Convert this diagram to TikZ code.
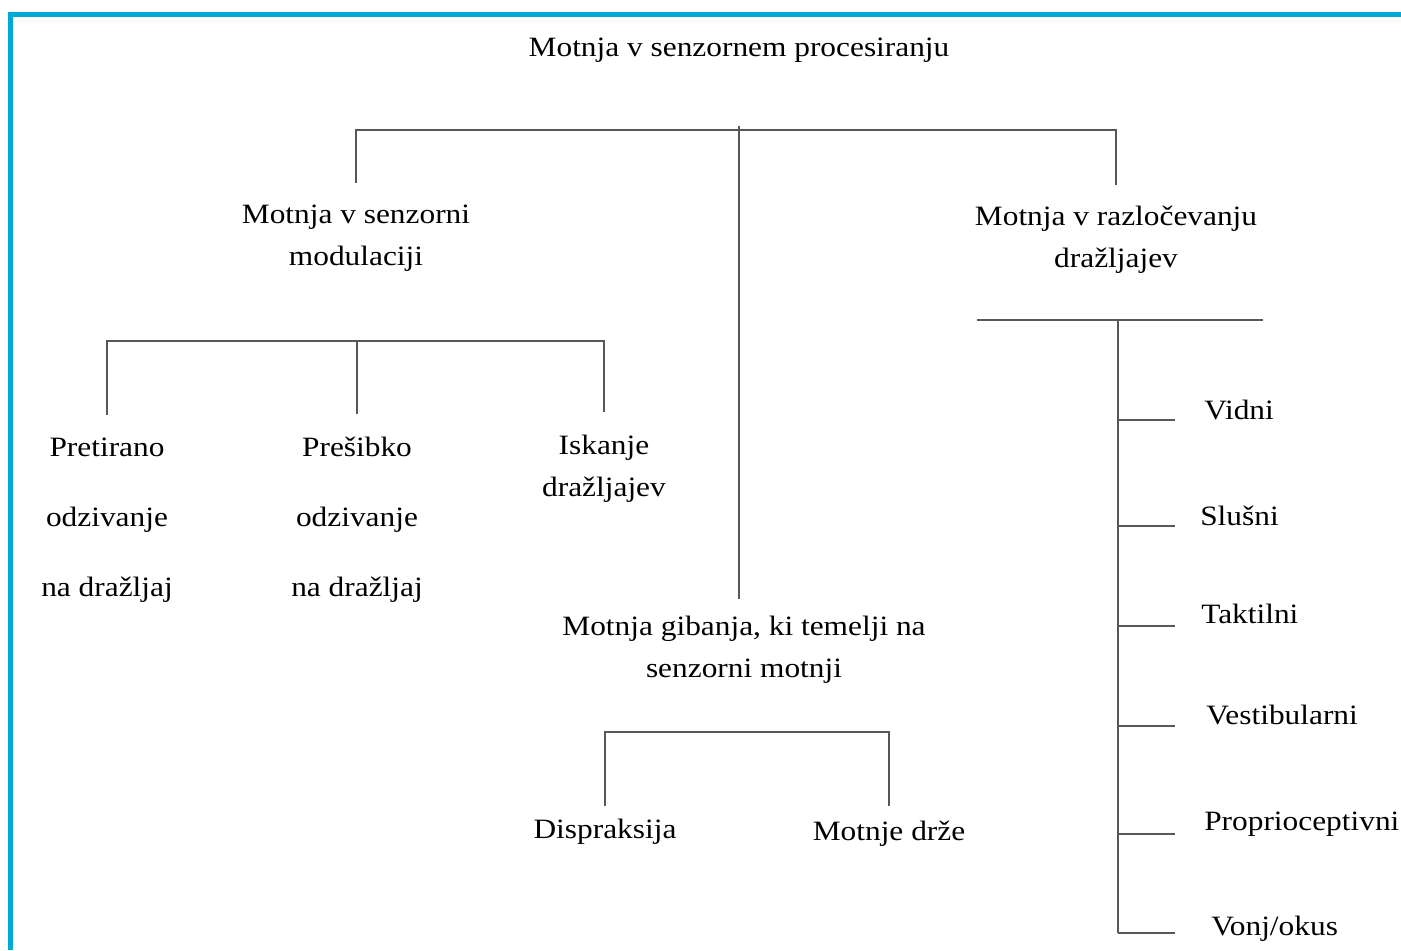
\documentclass[tikz,border=0pt]{standalone}
\usepackage{fontspec}
\setmainfont{Liberation Serif}[FakeStretch=1.12]
\definecolor{okvir}{HTML}{00A9D6}
\definecolor{crta}{HTML}{585858}

\begin{document}
\begin{tikzpicture}[x=0.75pt,y=-0.75pt]
\tikzstyle{every node}+=[inner sep=0pt, align=center, font=\fontsize{21}{31.5}\selectfont]
\tikzstyle{vez}=[draw=crta, line width=2.2pt]
\tikzstyle{tri}=[font=\fontsize{21}{52.5}\selectfont]
\tikzstyle{cut}=[anchor=west]
\useasboundingbox (0,0) rectangle (1401,950);
\fill [white] (0,0) rectangle (1401,950);
\draw [okvir, line width=4pt] (10.5,950) -- (10.5,14.5) -- (1401,14.5);
% naslov in prva raven
\node (glavna) at (739,50) {Motnja v senzornem procesiranju};
\node (modul) at (356,238) {Motnja v senzorni\\modulaciji};
\node (razloc) at (1116,240) {Motnja v razločevanju\\dražljajev};
\node (gibanje) at (744,650) {Motnja gibanja, ki temelji na\\senzorni motnji};
\coordinate (vrh) at (739,126);
\coordinate (vrsta) at (739,130);
\draw [vez, shorten <=16pt, shorten >=16pt] (modul.north) |- (vrsta) -| (razloc.north);
\draw [vez, shorten >=13pt] (vrh) -- (vrh |- gibanje.north);
% modulacija
\node [tri] (pretir) at (107,520) {Pretirano\\odzivanje\\na dražljaj};
\node [tri] (presib) at (357,520) {Prešibko\\odzivanje\\na dražljaj};
\node (iskanje) at (604,469) {Iskanje\\dražljajev};
\coordinate (sub1) at (357,341);
\draw [vez, shorten <=17pt, shorten >=17pt] (pretir.north) |- (sub1) -| (iskanje.north);
\draw [vez, shorten >=17pt] (sub1) -- (presib.north);
% gibanje
\node (disprak) at (605,832) {Dispraksija};
\node (drza) at (889,834) {Motnje drže};
\coordinate (sub2) at (747,732);
\draw [vez, shorten <=10pt, shorten >=11pt] (disprak.north) |- (sub2) -| (drza.north);
% razlocevanje
\coordinate (hrb) at (1118,320);
\draw [vez] (977,320) -- (1263,320);
\draw [vez] (hrb) -- (1118,933);
\node [cut] (vidni) at (1204,410) {Vidni};
\node [cut] (slusni) at (1200,516) {Slušni};
\node [cut] (takt) at (1201,614) {Taktilni};
\node [cut] (vest) at (1206,715) {Vestibularni};
\node [cut] (propr) at (1204,824) {Proprioceptivni};
\node [cut] (vonj) at (1211,929) {Vonj/okus};
\foreach \y in {420,526,626,726,834,933}
  \draw [vez] (hrb |- 0,\y) -- (1175,\y);
\end{tikzpicture}
\end{document}
